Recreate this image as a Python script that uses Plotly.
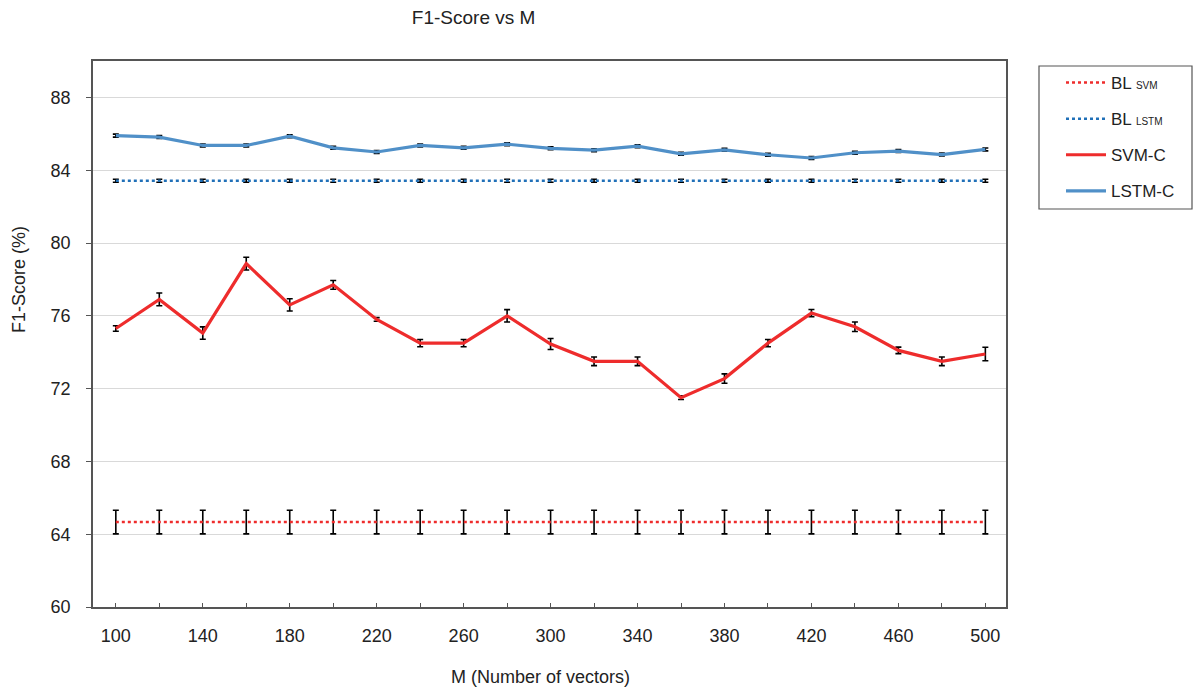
import plotly.graph_objects as go

M = [100, 120, 140, 160, 180, 200, 220, 240, 260, 280, 300,
     320, 340, 360, 380, 400, 420, 440, 460, 480, 500]
tick_labels = [str(m) if i % 2 == 0 else "" for i, m in enumerate(M)]

svm_c = [75.3, 76.9, 75.05, 78.87, 76.6, 77.7, 75.8, 74.5, 74.5, 76.0, 74.45,
         73.5, 73.5, 71.5, 72.55, 74.5, 76.15, 75.4, 74.1, 73.5, 73.9]
svm_c_err = [0.15, 0.35, 0.34, 0.35, 0.34, 0.24, 0.1, 0.2, 0.2, 0.34, 0.3,
             0.24, 0.24, 0.1, 0.26, 0.2, 0.2, 0.26, 0.18, 0.24, 0.37]

lstm_c = [85.9, 85.82, 85.36, 85.36, 85.87, 85.23, 85.0, 85.36, 85.23, 85.43, 85.2,
          85.1, 85.32, 84.9, 85.12, 84.85, 84.67, 84.96, 85.05, 84.86, 85.14]
lstm_c_err = [0.08] * len(M)

bl_svm = [64.67] * len(M)
bl_svm_err = [0.65] * len(M)
bl_lstm = [83.42] * len(M)
bl_lstm_err = [0.08] * len(M)

RED = "#EE2C2C"
BLUE = "#5090C8"
DOT_BLUE = "#2070B8"

def err(arr):
    return dict(type="data", array=arr, visible=True, color="black",
                thickness=1.6, width=3)

fig = go.Figure()
fig.add_trace(go.Scatter(x=M, y=bl_svm, mode="lines", name="BL <span style='font-size:10px'>SVM</span>",
                         line=dict(color=RED, width=2.5, dash="dot"), error_y=err(bl_svm_err),
                         legendgroup="a"))
fig.add_trace(go.Scatter(x=M, y=bl_lstm, mode="lines", name="BL <span style='font-size:10px'>LSTM</span>",
                         line=dict(color=DOT_BLUE, width=2.5, dash="dot"), error_y=err(bl_lstm_err),
                         legendgroup="b"))
fig.add_trace(go.Scatter(x=M, y=svm_c, mode="lines", name="SVM-C",
                         line=dict(color=RED, width=3.2), error_y=err(svm_c_err),
                         legendgroup="c"))
fig.add_trace(go.Scatter(x=M, y=lstm_c, mode="lines", name="LSTM-C",
                         line=dict(color=BLUE, width=3.2), error_y=err(lstm_c_err),
                         legendgroup="d"))

PL, PR, PT, PB = 93, 1006, 61, 607
PW, PH = PR - PL, PB - PT

def px_x(x):
    return (x - PL) / PW

def px_y(y):
    return (PB - y) / PH

FONT = "Liberation Sans, Arial, sans-serif"
fig.update_layout(
    width=1199, height=688,
    margin=dict(l=PL, r=1199 - PR, t=PT, b=688 - PB),
    paper_bgcolor="white", plot_bgcolor="white",
    font=dict(family=FONT, size=18, color="#222"),
    title=dict(text="F1-Score vs M", x=0.395, xanchor="center", y=0.975, yanchor="middle",
               yref="container", font=dict(size=19, color="#222")),
    showlegend=True,
    legend=dict(x=px_x(1061), xanchor="left", y=px_y(65), yanchor="top",
                borderwidth=0, bgcolor="rgba(0,0,0,0)",
                font=dict(size=17, color="#222"), traceorder="grouped",
                tracegroupgap=11, itemwidth=40),
    shapes=[dict(type="rect", xref="paper", yref="paper",
                 x0=px_x(1039), x1=px_x(1192), y0=px_y(209), y1=px_y(66),
                 line=dict(color="#555", width=1.2), layer="below")],
    xaxis=dict(range=[89.5, 509.5], tickvals=M, ticktext=tick_labels,
               ticks="inside", ticklen=4, tickcolor="#555", tickwidth=1,
               showline=True, linecolor="#555", linewidth=1.5, mirror=True,
               showgrid=False, zeroline=False, ticklabelstandoff=12),
    yaxis=dict(range=[60, 90], tickvals=[60, 64, 68, 72, 76, 80, 84, 88],
               ticks="outside", ticklen=5, tickcolor="#555", tickwidth=1,
               showline=True, linecolor="#555", linewidth=1.5, mirror=True,
               showgrid=True, gridcolor="#D9D9D9", gridwidth=1, zeroline=False,
               ticklabelstandoff=12),
    annotations=[
        dict(text="M (Number of vectors)", xref="paper", yref="paper",
             x=px_x(540), y=px_y(677), xanchor="center", yanchor="middle",
             showarrow=False, font=dict(size=18, color="#222")),
        dict(text="F1-Score (%)", xref="paper", yref="paper", textangle=-90,
             x=px_x(19), y=px_y(280), xanchor="center", yanchor="middle",
             showarrow=False, font=dict(size=18, color="#222")),
    ],
)

fig.write_html("out.html")
